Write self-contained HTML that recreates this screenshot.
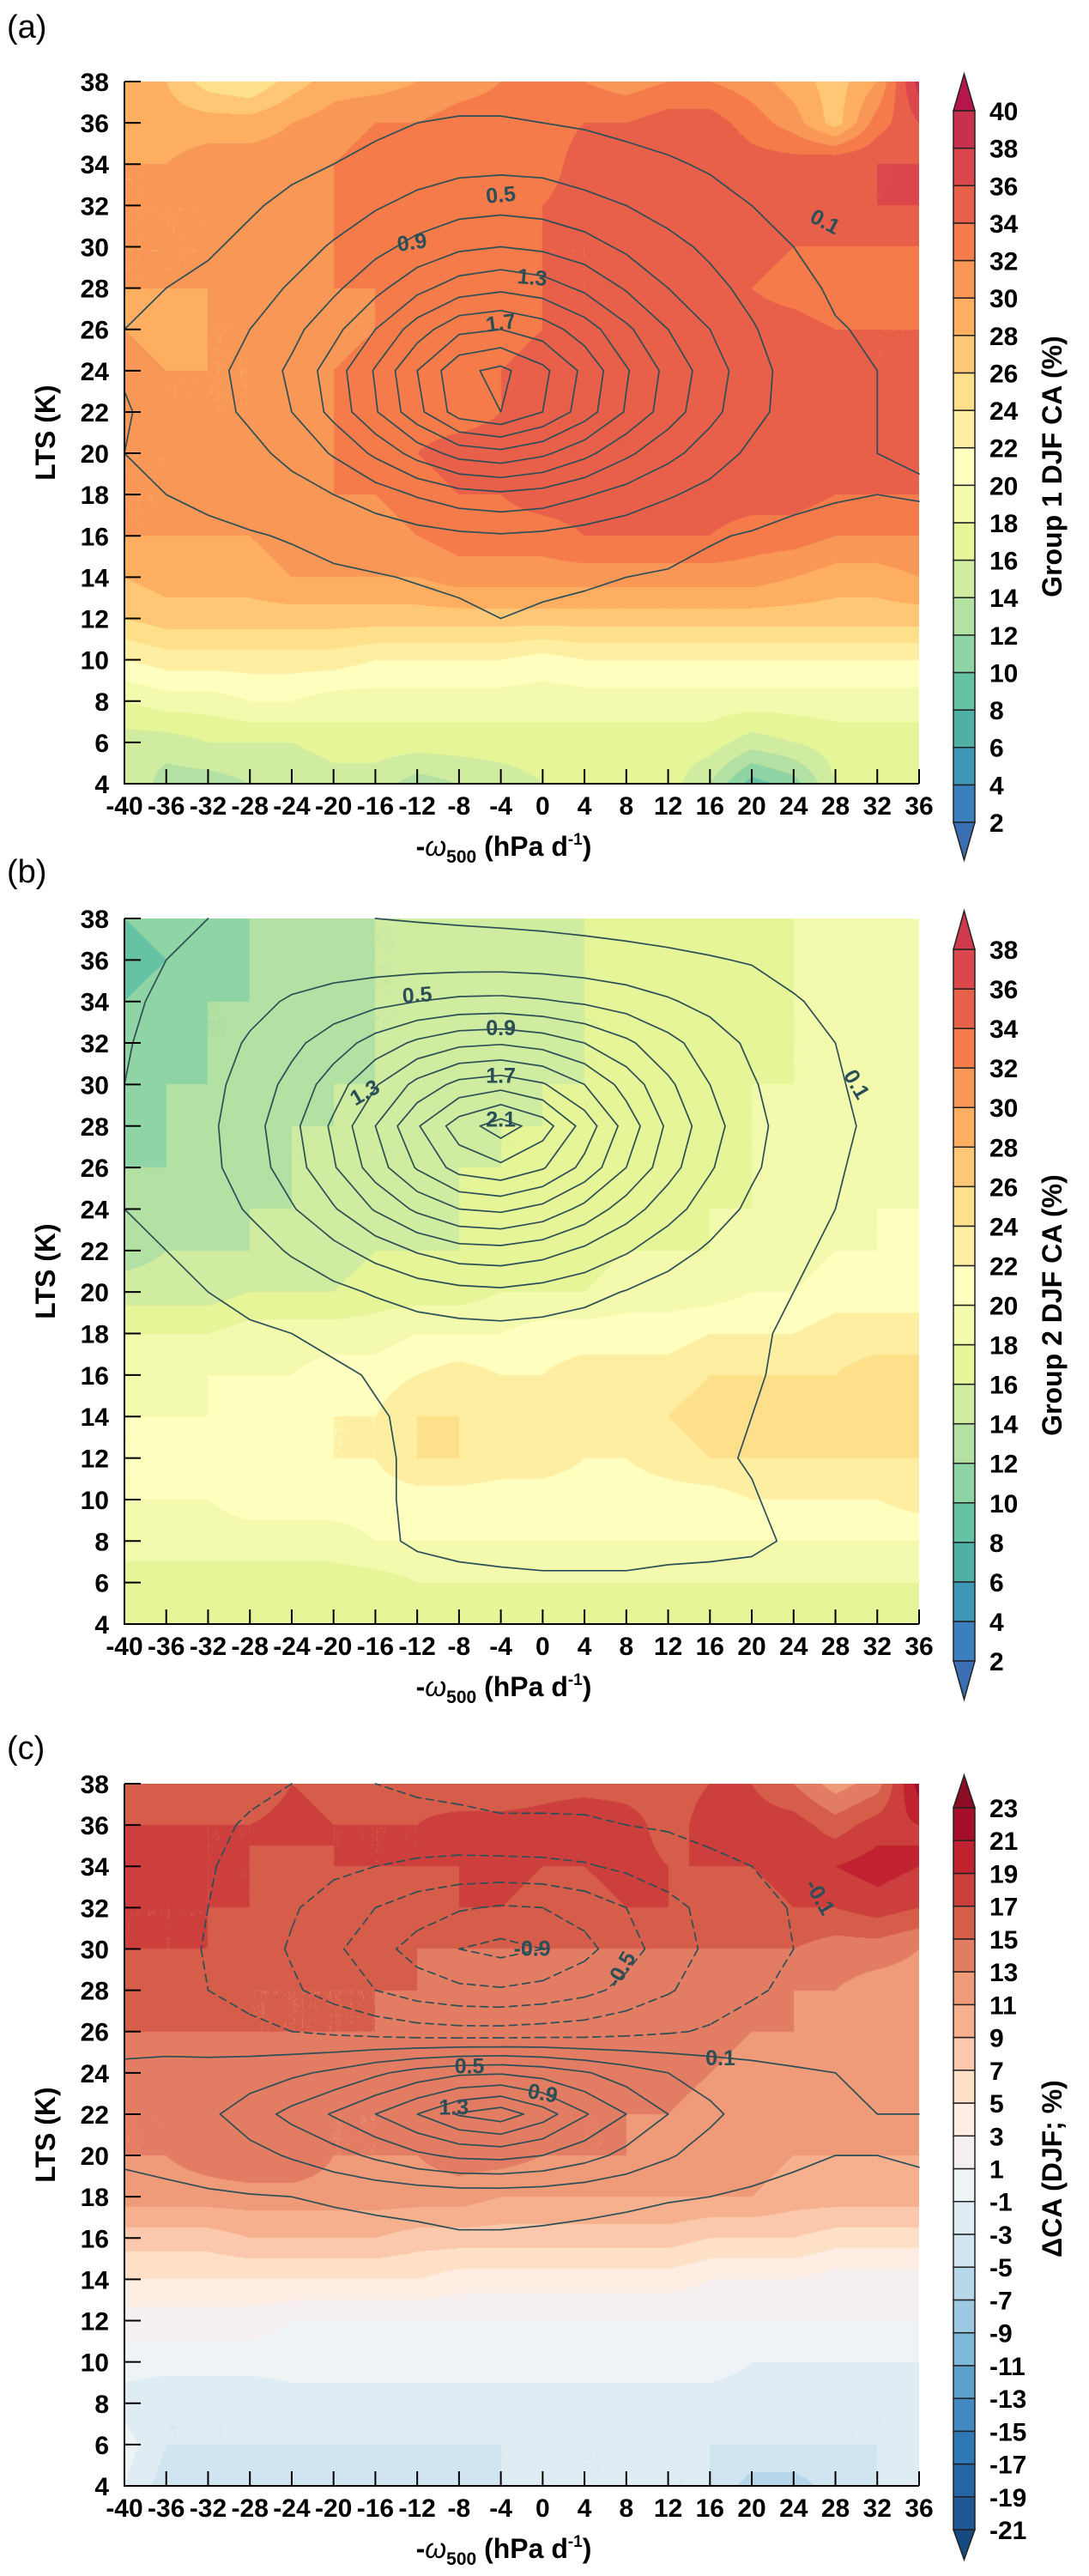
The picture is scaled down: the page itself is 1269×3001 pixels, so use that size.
<!DOCTYPE html>
<html><head><meta charset="utf-8"><title>CA vs LTS and omega500</title>
<style>
html,body{margin:0;padding:0;background:#fff;}
#wrap{position:relative;width:1269px;height:3001px;overflow:hidden;background:#fff;}
canvas{position:absolute;}
svg{position:absolute;left:0;top:0;}
text{font-family:"Liberation Sans",Arial,sans-serif;}
</style></head>
<body>
<div id="wrap">
<canvas id="cva" width="926" height="818" style="left:145px;top:95px"></canvas>
<canvas id="cvb" width="926" height="822" style="left:145px;top:1070px"></canvas>
<canvas id="cvc" width="926" height="818" style="left:145px;top:2078px"></canvas>
<svg id="svg" width="1269" height="3001" xmlns="http://www.w3.org/2000/svg"></svg>
</div>
<script>
// ---------- data ----------
const xNodes = [-40,-36,-32,-28,-24,-20,-16,-12,-8,-4,0,4,8,12,16,20,24,28,32,36];
const yNodes = [38,36,34,32,30,28,26,24,22,20,18,16,14,12,10,8,6,4];
const xTickLabels = ["-40","-36","-32","-28","-24","-20","-16","-12","-8","-4","0","4","8","12","16","20","24","28","32","36"];
const yTickLabels = ["38","36","34","32","30","28","26","24","22","20","18","16","14","12","10","8","6","4"];

const caGroup1 = [
[29,28,25,24,27,29,29,30,31,32,32,32,31,32,32,31,29,27,30,39],
[29,29,29,29,30,31,32,32,33,33,33,34,34,35,35,33,31,27,33,36],
[30,30,31,31,31,32,33,33,33,33,33,35,36,35,36,35,35,36,36,36],
[30,30,30,31,32,32,33,33,33,33,34,35,35,35,35,35,35,35,36,36],
[30,30,30,31,31,32,33,33,33,33,34,34,35,35,35,35,34,34,34,34],
[30,30,30,31,31,32,32,33,33,33,34,34,35,35,35,34,33,32,33,34],
[30,29,30,30,31,31,32,33,33,33,34,35,35,35,35,35,35,34,34,34],
[31,30,30,30,31,32,33,33,33,34,35,35,35,35,35,35,35,35,34,34],
[31,30,30,30,31,32,33,33,33,34,35,35,35,35,35,35,35,35,35,35],
[30,30,31,31,32,32,33,34,35,35,35,35,36,36,36,35,35,35,35,35],
[30,30,31,31,31,32,32,33,34,34,35,35,35,35,35,35,35,34,34,34],
[30,30,30,30,31,31,31,32,33,33,33,34,34,34,34,33,33,32,32,32],
[28,29,29,29,30,30,30,30,31,31,31,31,31,31,31,31,30,29,29,30],
[26,27,27,27,27,27,27,27,27,27,27,27,27,27,27,27,27,27,27,27],
[22,23,23,23,23,23,22,22,22,22,21,22,22,22,22,22,22,22,22,22],
[18,19,19,20,20,19,19,19,19,19,19,19,19,19,19,19,19,19,19,19],
[15,15,16,16,16,17,17,17,17,17,17,17,17,17,17,15,16,17,17,17],
[16,13,13,14,14,15,15,13,14,15,16,16,17,17,14,9,11,16,17,18]];

const caGroup2 = [
[10,11,12,12,13,14,14,14,15,15,15,16,16,17,17,18,18,19,20,20],
[9,10,11,12,13,13,14,14,15,15,15,16,16,17,17,17,18,19,19,19],
[10,11,12,12,13,13,14,14,15,15,15,16,16,16,17,17,18,18,19,19],
[10,11,12,12,13,13,14,14,15,15,15,16,16,16,17,17,18,18,19,19],
[11,12,12,13,13,14,14,15,15,15,16,16,16,17,17,18,18,18,19,19],
[11,12,13,13,14,14,15,15,15,16,16,16,16,17,17,18,18,19,19,19],
[12,12,13,13,14,14,15,15,16,16,16,16,17,17,17,18,18,19,19,19],
[12,13,13,14,14,15,15,15,16,16,16,17,17,17,18,18,19,19,20,20],
[13,14,14,14,15,15,16,16,16,17,17,17,18,18,18,19,19,20,20,20],
[15,15,15,16,16,16,17,17,17,18,18,18,19,19,19,20,20,21,21,21],
[18,18,18,19,19,19,19,20,20,20,21,21,21,21,22,22,22,23,23,23],
[19,19,20,20,20,21,21,22,23,22,22,23,23,23,24,24,24,24,25,25],
[20,20,20,21,21,22,22,24,24,24,23,23,24,24,25,25,25,25,25,25],
[20,20,21,21,21,22,22,24,24,23,23,22,22,23,24,24,24,24,24,24],
[20,20,20,21,21,21,21,21,21,21,21,21,21,21,21,22,22,22,22,23],
[19,19,19,19,19,19,20,20,20,20,20,20,20,20,20,20,20,20,20,20],
[17,17,17,17,17,17,17,18,18,18,18,18,18,18,18,18,18,18,18,18],
[17,17,17,17,17,16,17,17,17,17,17,17,17,17,17,17,17,17,17,17]];

const caDiff = [
[16,17,15,15,17,16,16,16,15,15,16,16,16,16,17,17,15,12,14,22],
[17,17,17,17,18,17,17,17,18,18,18,19,18,16,18,18,18,16,18,19],
[17,19,17,17,16,17,17,17,17,18,17,17,18,17,17,17,18,19,20,19],
[17,17,17,17,17,17,16,16,17,17,16,16,17,17,16,16,17,17,18,17],
[17,17,17,16,16,16,16,15,15,15,15,15,15,15,15,15,15,14,14,13],
[16,16,16,15,15,15,15,15,14,14,14,14,14,14,14,14,13,13,12,12],
[15,15,15,15,15,15,15,14,14,14,14,14,14,14,14,13,13,12,12,12],
[14,14,14,14,14,14,14,14,14,14,14,14,14,14,13,12,12,12,12,12],
[13,13,13,13,13,13,13,14,14,14,14,13,13,13,12,12,12,11,12,12],
[13,13,14,15,15,13,13,13,14,14,13,13,13,12,12,12,11,11,11,11],
[12,12,12,12,12,12,12,12,12,11,11,11,11,11,11,11,10,10,10,10],
[8,8,8,9,9,9,9,8,8,8,8,8,8,8,7,7,7,6,6,6],
[5,5,5,5,5,5,5,5,4,4,4,4,4,4,3,3,3,2,2,2],
[2,2,2,2,1,1,1,1,1,1,1,1,1,1,1,1,1,1,1,1],
[0,0,0,0,0,0,0,0,0,0,0,0,0,0,0,-1,-1,-1,-1,-1],
[-2,-3,-3,-3,-2,-2,-2,-2,-2,-2,-2,-2,-2,-2,-2,-2,-3,-3,-3,-3],
[0,-3,-3,-3,-3,-3,-3,-3,-3,-3,-3,-3,-3,-3,-3,-3,-3,-3,-3,-3],
[-1,-4,-4,-4,-4,-3,-4,-4,-4,-3,-3,-3,-3,-3,-3,-6,-6,-4,-3,-1]];

const densGroup1 = [
[0,0,0,0,0,0,0,0,0,0,0,0,0,0,0,0,0,0,0,0],
[0,0,0,0,0,0.02,0.06,0.1,0.12,0.12,0.1,0.08,0.05,0.03,0.01,0,0,0,0,0],
[0,0,0,0.02,0.06,0.1,0.15,0.2,0.24,0.25,0.24,0.2,0.16,0.12,0.08,0.05,0.02,0,0,0],
[0,0,0.03,0.08,0.14,0.2,0.28,0.36,0.42,0.44,0.42,0.36,0.3,0.22,0.16,0.1,0.06,0.02,0,0],
[0,0.04,0.08,0.14,0.22,0.32,0.44,0.56,0.66,0.7,0.66,0.58,0.46,0.36,0.26,0.17,0.1,0.05,0.02,0],
[0.08,0.1,0.14,0.22,0.32,0.46,0.64,0.84,1.0,1.06,1.0,0.86,0.68,0.5,0.36,0.24,0.14,0.08,0.05,0.02],
[0.1,0.13,0.2,0.3,0.44,0.64,0.9,1.2,1.45,1.5,1.4,1.2,0.94,0.7,0.5,0.32,0.18,0.11,0.08,0.06],
[0.11,0.16,0.24,0.36,0.54,0.8,1.12,1.5,1.85,1.95,1.75,1.45,1.12,0.84,0.6,0.38,0.22,0.14,0.1,0.08],
[0.09,0.14,0.22,0.34,0.5,0.76,1.08,1.44,1.8,1.9,1.7,1.4,1.08,0.8,0.56,0.36,0.22,0.14,0.1,0.08],
[0.1,0.12,0.16,0.24,0.36,0.52,0.74,0.98,1.18,1.24,1.14,0.96,0.74,0.56,0.4,0.26,0.16,0.12,0.1,0.09],
[0.08,0.1,0.12,0.16,0.22,0.3,0.4,0.52,0.62,0.66,0.62,0.52,0.42,0.32,0.24,0.17,0.13,0.11,0.1,0.11],
[0.05,0.06,0.08,0.09,0.11,0.14,0.18,0.22,0.26,0.28,0.26,0.22,0.18,0.14,0.11,0.09,0.07,0.06,0.05,0.05],
[0.02,0.03,0.04,0.05,0.06,0.08,0.09,0.11,0.13,0.14,0.13,0.12,0.1,0.09,0.07,0.05,0.04,0.03,0.02,0.02],
[0,0,0,0.01,0.02,0.03,0.04,0.05,0.07,0.1,0.08,0.06,0.04,0.03,0.02,0.01,0,0,0,0],
[0,0,0,0,0,0,0,0,0,0,0,0,0,0,0,0,0,0,0,0],
[0,0,0,0,0,0,0,0,0,0,0,0,0,0,0,0,0,0,0,0],
[0,0,0,0,0,0,0,0,0,0,0,0,0,0,0,0,0,0,0,0],
[0,0,0,0,0,0,0,0,0,0,0,0,0,0,0,0,0,0,0,0]];

const densGroup2 = [
[0.05,0.08,0.1,0.12,0.12,0.11,0.1,0.09,0.08,0.07,0.06,0.05,0.04,0.03,0.02,0.01,0,0,0,0],
[0.07,0.1,0.14,0.18,0.2,0.2,0.2,0.2,0.2,0.2,0.19,0.17,0.15,0.13,0.11,0.09,0.06,0.04,0.02,0],
[0.08,0.12,0.18,0.25,0.32,0.38,0.44,0.5,0.54,0.55,0.52,0.47,0.4,0.32,0.24,0.17,0.11,0.07,0.04,0.02],
[0.09,0.14,0.22,0.32,0.45,0.6,0.78,0.94,1.05,1.08,1.02,0.9,0.74,0.56,0.4,0.26,0.16,0.1,0.06,0.03],
[0.1,0.15,0.24,0.38,0.56,0.8,1.08,1.36,1.56,1.62,1.52,1.3,1.02,0.74,0.5,0.32,0.19,0.11,0.07,0.04],
[0.11,0.16,0.26,0.42,0.64,0.94,1.3,1.68,2.0,2.2,2.0,1.62,1.22,0.86,0.58,0.36,0.21,0.12,0.08,0.05],
[0.11,0.16,0.25,0.4,0.6,0.88,1.2,1.52,1.78,1.86,1.72,1.44,1.1,0.78,0.52,0.33,0.2,0.11,0.07,0.04],
[0.1,0.14,0.21,0.32,0.48,0.68,0.92,1.14,1.3,1.34,1.24,1.04,0.8,0.58,0.4,0.26,0.16,0.1,0.06,0.03],
[0.08,0.1,0.15,0.22,0.32,0.44,0.58,0.72,0.82,0.84,0.78,0.66,0.52,0.38,0.27,0.18,0.12,0.08,0.05,0.02],
[0.05,0.07,0.1,0.14,0.19,0.25,0.32,0.39,0.44,0.46,0.42,0.36,0.29,0.22,0.17,0.13,0.1,0.06,0.03,0.01],
[0.02,0.04,0.06,0.08,0.1,0.13,0.16,0.2,0.22,0.23,0.22,0.2,0.17,0.14,0.12,0.11,0.09,0.04,0.02,0],
[0,0.01,0.02,0.04,0.06,0.08,0.11,0.13,0.15,0.16,0.15,0.14,0.13,0.12,0.11,0.11,0.08,0.03,0.01,0],
[0,0,0.01,0.02,0.04,0.06,0.09,0.12,0.14,0.15,0.14,0.13,0.12,0.12,0.12,0.1,0.06,0.02,0,0],
[0,0,0,0.01,0.02,0.04,0.08,0.12,0.14,0.14,0.14,0.13,0.13,0.13,0.12,0.09,0.05,0.01,0,0],
[0,0,0,0,0.01,0.03,0.08,0.12,0.14,0.14,0.14,0.14,0.14,0.13,0.13,0.11,0.06,0.01,0,0],
[0,0,0,0,0,0.02,0.07,0.12,0.14,0.15,0.15,0.15,0.15,0.14,0.14,0.13,0.08,0.01,0,0],
[0,0,0,0,0,0,0.02,0.04,0.06,0.07,0.08,0.08,0.08,0.07,0.06,0.05,0.03,0,0,0],
[0,0,0,0,0,0,0,0,0,0,0,0,0,0,0,0,0,0,0,0]];

const densDiff = [
[0,0,-0.02,-0.06,-0.1,-0.12,-0.1,-0.08,-0.06,-0.05,-0.05,-0.04,-0.03,-0.02,-0.01,0,0,0,0,0],
[0,-0.02,-0.06,-0.12,-0.14,-0.15,-0.14,-0.14,-0.14,-0.12,-0.12,-0.12,-0.1,-0.08,-0.05,-0.03,-0.01,0,0,0],
[0,-0.04,-0.09,-0.14,-0.2,-0.26,-0.3,-0.34,-0.36,-0.36,-0.35,-0.32,-0.26,-0.2,-0.14,-0.1,-0.06,-0.02,0,0],
[0,-0.05,-0.1,-0.18,-0.28,-0.38,-0.5,-0.6,-0.68,-0.72,-0.7,-0.62,-0.5,-0.36,-0.24,-0.15,-0.09,-0.04,-0.01,0],
[0,-0.05,-0.11,-0.2,-0.32,-0.46,-0.62,-0.78,-0.9,-0.96,-0.9,-0.76,-0.58,-0.4,-0.26,-0.16,-0.1,-0.04,-0.01,0],
[0,-0.04,-0.1,-0.17,-0.27,-0.38,-0.5,-0.6,-0.66,-0.68,-0.64,-0.56,-0.44,-0.32,-0.2,-0.12,-0.07,-0.03,0,0],
[0.06,0.04,0,-0.05,-0.1,-0.14,-0.18,-0.22,-0.24,-0.24,-0.22,-0.2,-0.16,-0.12,-0.08,-0.04,-0.01,0.02,0.03,0.04],
[0.12,0.14,0.16,0.2,0.26,0.34,0.46,0.58,0.66,0.68,0.62,0.52,0.4,0.3,0.22,0.16,0.12,0.1,0.09,0.08],
[0.14,0.18,0.26,0.4,0.56,0.72,0.9,1.1,1.32,1.42,1.2,0.92,0.7,0.5,0.34,0.22,0.16,0.12,0.1,0.1],
[0.12,0.14,0.18,0.24,0.32,0.42,0.54,0.66,0.74,0.76,0.7,0.58,0.44,0.32,0.22,0.16,0.12,0.1,0.1,0.12],
[0.06,0.07,0.08,0.09,0.1,0.12,0.14,0.16,0.18,0.18,0.17,0.15,0.13,0.11,0.1,0.08,0.07,0.06,0.05,0.05],
[0.02,0.02,0.03,0.03,0.04,0.04,0.05,0.06,0.08,0.08,0.07,0.06,0.05,0.04,0.03,0.03,0.02,0.02,0.01,0.01],
[0,0,0,0,0,0,0,0,0,0,0,0,0,0,0,0,0,0,0,0],
[0,0,0,0,0,0,0,0,0,0,0,0,0,0,0,0,0,0,0,0],
[0,0,0,0,0,0,0,0,0,0,0,0,0,0,0,0,0,0,0,0],
[0,0,0,0,0,0,0,0,0,0,0,0,0,0,0,0,0,0,0,0],
[0,0,0,0,0,0,0,0,0,0,0,0,0,0,0,0,0,0,0,0],
[0,0,0,0,0,0,0,0,0,0,0,0,0,0,0,0,0,0,0,0]];

const levelsA = [2,4,6,8,10,12,14,16,18,20,22,24,26,28,30,32,34,36,38,40];
const levelsB = [2,4,6,8,10,12,14,16,18,20,22,24,26,28,30,32,34,36,38];
const levelsC = [-21,-19,-17,-15,-13,-11,-9,-7,-5,-3,-1,1,3,5,7,9,11,13,15,17,19,21,23];
const contourLevelsA = [0.1,0.3,0.5,0.7,0.9,1.1,1.3,1.5,1.7,1.9];
const contourLevelsB = [0.1,0.3,0.5,0.7,0.9,1.1,1.3,1.5,1.7,1.9,2.1];
const contourLevelsC = [-0.9,-0.7,-0.5,-0.3,-0.1,0.1,0.3,0.5,0.7,0.9,1.1,1.3];
const contourLabelsA = [["0.1",27,31.2,28],["0.5",-4,32.5,-5],["0.9",-12.5,30.2,-8],["1.3",-1,28.5,5],["1.7",-4,26.3,-8]];
const contourLabelsB = [["0.5",-12,34.3,-4],["0.9",-4,32.7,0],["1.3",-17,29.6,-30],["1.7",-4,30.4,0],["2.1",-4,28.3,0],["0.1",30,30,60]];
const contourLabelsC = [["-0.9",-1,30,0],["-0.5",7.5,29,-60],["-0.1",26.5,32.5,60],["0.5",-7,24.3,0],["0.9",0,23,10],["1.3",-8.5,22.3,0],["0.1",17,24.7,0]];

const palA = ["#3b6eb3","#3c7fbe","#3e98b5","#4fb0a6","#66c2a5","#8fd4a4","#b3e0a3","#d0eca0","#e6f598","#f3faae","#ffffbf","#feeea2","#fee08b","#fdc776","#fdae61","#f99757","#f57b4a","#e8604a","#db474c","#c8304d","#b5174d"];
const palB = ["#3b6eb3","#3c7fbe","#3e98b5","#4fb0a6","#66c2a5","#8fd4a4","#b3e0a3","#d0eca0","#e6f598","#f3faae","#ffffbf","#feeea2","#fee08b","#fdc776","#fdae61","#f99757","#f57b4a","#e8604a","#db474c","#d03a4e"];
const palC = ["#154a80","#1f5896","#2565a6","#2f78b6","#4189c0","#5aa0cb","#7db8d8","#9dc8e2","#b6d6ea","#d1e5f0","#e0ecf3","#eef4f6","#f6efef","#fdede2","#fde0c6","#fcc8ad","#f6b08e","#ef9a78","#e27c63","#d65d4a","#cc3f3c","#c0232f","#a50f2a","#8a0c25"];

// ---------- layout ----------
const L = 145, R = 1071;
const panels = [
 {id:"a", top:95, bot:913, field:caGroup1, dens:densGroup1, levels:levelsA, pal:palA, clev:contourLevelsA, clab:contourLabelsA,
  cbTop:129, cbBot:958, tipTop:86, tipBot:1002, cbTitle:"Group 1 DJF CA (%)", label:"(a)", labelY:44},
 {id:"b", top:1070, bot:1892, field:caGroup2, dens:densGroup2, levels:levelsB, pal:palB, clev:contourLevelsB, clab:contourLabelsB,
  cbTop:1106, cbBot:1935, tipTop:1061, tipBot:1980, cbTitle:"Group 2 DJF CA (%)", label:"(b)", labelY:1028},
 {id:"c", top:2078, bot:2896, field:caDiff, dens:densDiff, levels:levelsC, pal:palC, clev:contourLevelsC, clab:contourLabelsC,
  cbTop:2106, cbBot:2947, tipTop:2068, tipBot:2982, cbTitle:"\u0394CA (DJF; %)", label:"(c)", labelY:2049}
];
const NS = "http://www.w3.org/2000/svg";
const svg = document.getElementById("svg");
function mk(tag, attrs, parent){ const e=document.createElementNS(NS,tag); for(const k in attrs) e.setAttribute(k,attrs[k]); (parent||svg).appendChild(e); return e; }
function hex(c){ return [parseInt(c.substr(1,2),16),parseInt(c.substr(3,2),16),parseInt(c.substr(5,2),16)]; }
function classOf(v, levels){ let k=0; for(const b of levels){ if(v>=b) k++; } return k; }
function sample(grid, xv, yv){
  let fx = (xv - xNodes[0])/(xNodes[1]-xNodes[0]);
  let fy = (yNodes[0] - yv)/(yNodes[0]-yNodes[1]);
  fx=Math.max(0,Math.min(xNodes.length-1.0001,fx)); fy=Math.max(0,Math.min(yNodes.length-1.0001,fy));
  const i=Math.floor(fx), j=Math.floor(fy), tx=fx-i, ty=fy-j;
  const a=grid[j][i], b=grid[j][i+1], c=grid[j+1][i], d=grid[j+1][i+1];
  return a*(1-tx)*(1-ty)+b*tx*(1-ty)+c*(1-tx)*ty+d*tx*ty;
}

panels.forEach(p=>{
  const H = p.bot - p.top, W = R - L;
  const xs = v => L + (v - xNodes[0])/(xNodes[xNodes.length-1]-xNodes[0])*W;
  const ys = v => p.bot - (v - yNodes[yNodes.length-1])/(yNodes[0]-yNodes[yNodes.length-1])*H;
  const cv = document.getElementById("cv"+p.id), ctx = cv.getContext("2d");
  const img = ctx.createImageData(W,H); const rgb = p.pal.map(hex);
  for(let py=0; py<H; py++){
    const yv = yNodes[0] - (py+0.5)/H*(yNodes[0]-yNodes[yNodes.length-1]);
    for(let px=0; px<W; px++){
      const xv = xNodes[0] + (px+0.5)/W*(xNodes[xNodes.length-1]-xNodes[0]);
      const c = rgb[classOf(sample(p.field,xv,yv), p.levels)];
      const o=(py*W+px)*4; img.data[o]=c[0]; img.data[o+1]=c[1]; img.data[o+2]=c[2]; img.data[o+3]=255;
    }
  }
  ctx.putImageData(img,0,0);

  const g = mk("g",{});
  
  

  p.clev.forEach(lv=>{
    let d="";
    const gr=p.dens;
    for(let j=0;j<yNodes.length-1;j++) for(let i=0;i<xNodes.length-1;i++){
      const corners=[[i,j],[i+1,j],[i+1,j+1],[i,j+1]];
      const pts=[];
      for(let e=0;e<4;e++){
        const [i1,j1]=corners[e], [i2,j2]=corners[(e+1)%4];
        const v1=gr[j1][i1], v2=gr[j2][i2];
        if((v1<lv)!==(v2<lv)){
          const t=(lv-v1)/(v2-v1);
          const xv=xNodes[i1]+t*(xNodes[i2]-xNodes[i1]);
          const yv=yNodes[j1]+t*(yNodes[j2]-yNodes[j1]);
          pts.push([xs(xv),ys(yv)]);
        }
      }
      for(let k=0;k+1<pts.length;k+=2){
        d+="M"+pts[k][0].toFixed(1)+" "+pts[k][1].toFixed(1)+"L"+pts[k+1][0].toFixed(1)+" "+pts[k+1][1].toFixed(1);
      }
    }
    if(d){
      const path=mk("path",{d:d,fill:"none",stroke:"#2c4f57","stroke-width":"1.7","stroke-linecap":"round","stroke-dasharray":lv<0?"9 6":"none"},g);
      
      
    }
  });
  p.clab.forEach(c=>{
    const t=mk("text",{x:xs(c[1]),y:ys(c[2]),"font-size":"25","font-weight":"bold",fill:"#2c4f57","text-anchor":"middle","dominant-baseline":"central",transform:"rotate("+c[3]+" "+xs(c[1])+" "+ys(c[2])+")"},g);
    t.textContent=c[0];
    
    
  });

  const ax=mk("path",{d:`M${L} ${p.top}V${p.bot}H${R}`,fill:"none",stroke:"#000","stroke-width":"2"},g);
  
  
  yTickLabels.forEach((lab,k)=>{
    const y=ys(yNodes[k]);
    const tk=mk("line",{x1:L,x2:L+19,y1:y,y2:y,stroke:"#000","stroke-width":"2"},g);
    
    
    const t=mk("text",{x:127,y:y+11,"font-size":"30","font-weight":"bold","text-anchor":"end"},g);
    t.textContent=lab;
    
    
  });
  xTickLabels.forEach((lab,k)=>{
    const x=xs(xNodes[k]);
    const tk=mk("line",{x1:x,x2:x,y1:p.bot,y2:p.bot-17,stroke:"#000","stroke-width":"2"},g);
    
    
    const t=mk("text",{x:x,y:p.bot+36,"font-size":"30","font-weight":"bold","text-anchor":"middle"},g);
    t.textContent=lab;
    
    
  });
  const yt=mk("text",{x:0,y:0,"font-size":"32","font-weight":"bold","text-anchor":"middle",transform:`translate(64 ${(p.top+p.bot)/2}) rotate(-90)`},g);
  yt.textContent="LTS (K)";
  
  
  const xt=mk("text",{x:587,y:p.bot+84,"font-size":"32","font-weight":"bold","text-anchor":"middle"},g);
  xt.innerHTML='-<tspan font-style="italic" font-weight="normal">ω</tspan><tspan font-size="21" dy="8">500</tspan><tspan dy="-8"> (hPa d</tspan><tspan font-size="19" dy="-13">-1</tspan><tspan dy="13">)</tspan>';
  
  
  const pl=mk("text",{x:8,y:p.labelY,"font-size":"38","font-weight":"normal"},g);
  pl.textContent=p.label;
  
  

  const cx1=1111, cx2=1136, n=p.levels.length-1, step=(p.cbBot-p.cbTop)/n;
  const cb=mk("g",{},g);
  
  
  for(let k=0;k<n;k++){
    const r=mk("rect",{x:cx1,y:p.cbBot-(k+1)*step,width:cx2-cx1,height:step,fill:p.pal[k+1],stroke:"#222","stroke-width":"1.5"},cb);
    
    
  }
  const tt=mk("path",{d:`M${cx1} ${p.cbTop}L${(cx1+cx2)/2} ${p.tipTop}L${cx2} ${p.cbTop}Z`,fill:p.pal[p.pal.length-1],stroke:"#222","stroke-width":"1.5"},cb);
  
  
  const tb=mk("path",{d:`M${cx1} ${p.cbBot}L${(cx1+cx2)/2} ${p.tipBot}L${cx2} ${p.cbBot}Z`,fill:p.pal[0],stroke:"#222","stroke-width":"1.5"},cb);
  
  
  p.levels.forEach((lv,k)=>{
    const t=mk("text",{x:1153,y:p.cbBot-k*step+11,"font-size":"30","font-weight":"bold"},cb);
    t.textContent=String(lv);
    
    
  });
  const ct=mk("text",{x:0,y:0,"font-size":"32","font-weight":"bold","text-anchor":"middle",transform:`translate(1237 ${(p.cbTop+p.cbBot)/2}) rotate(-90)`},cb);
  ct.textContent=p.cbTitle;
  
  
});
</script>
</body></html>
